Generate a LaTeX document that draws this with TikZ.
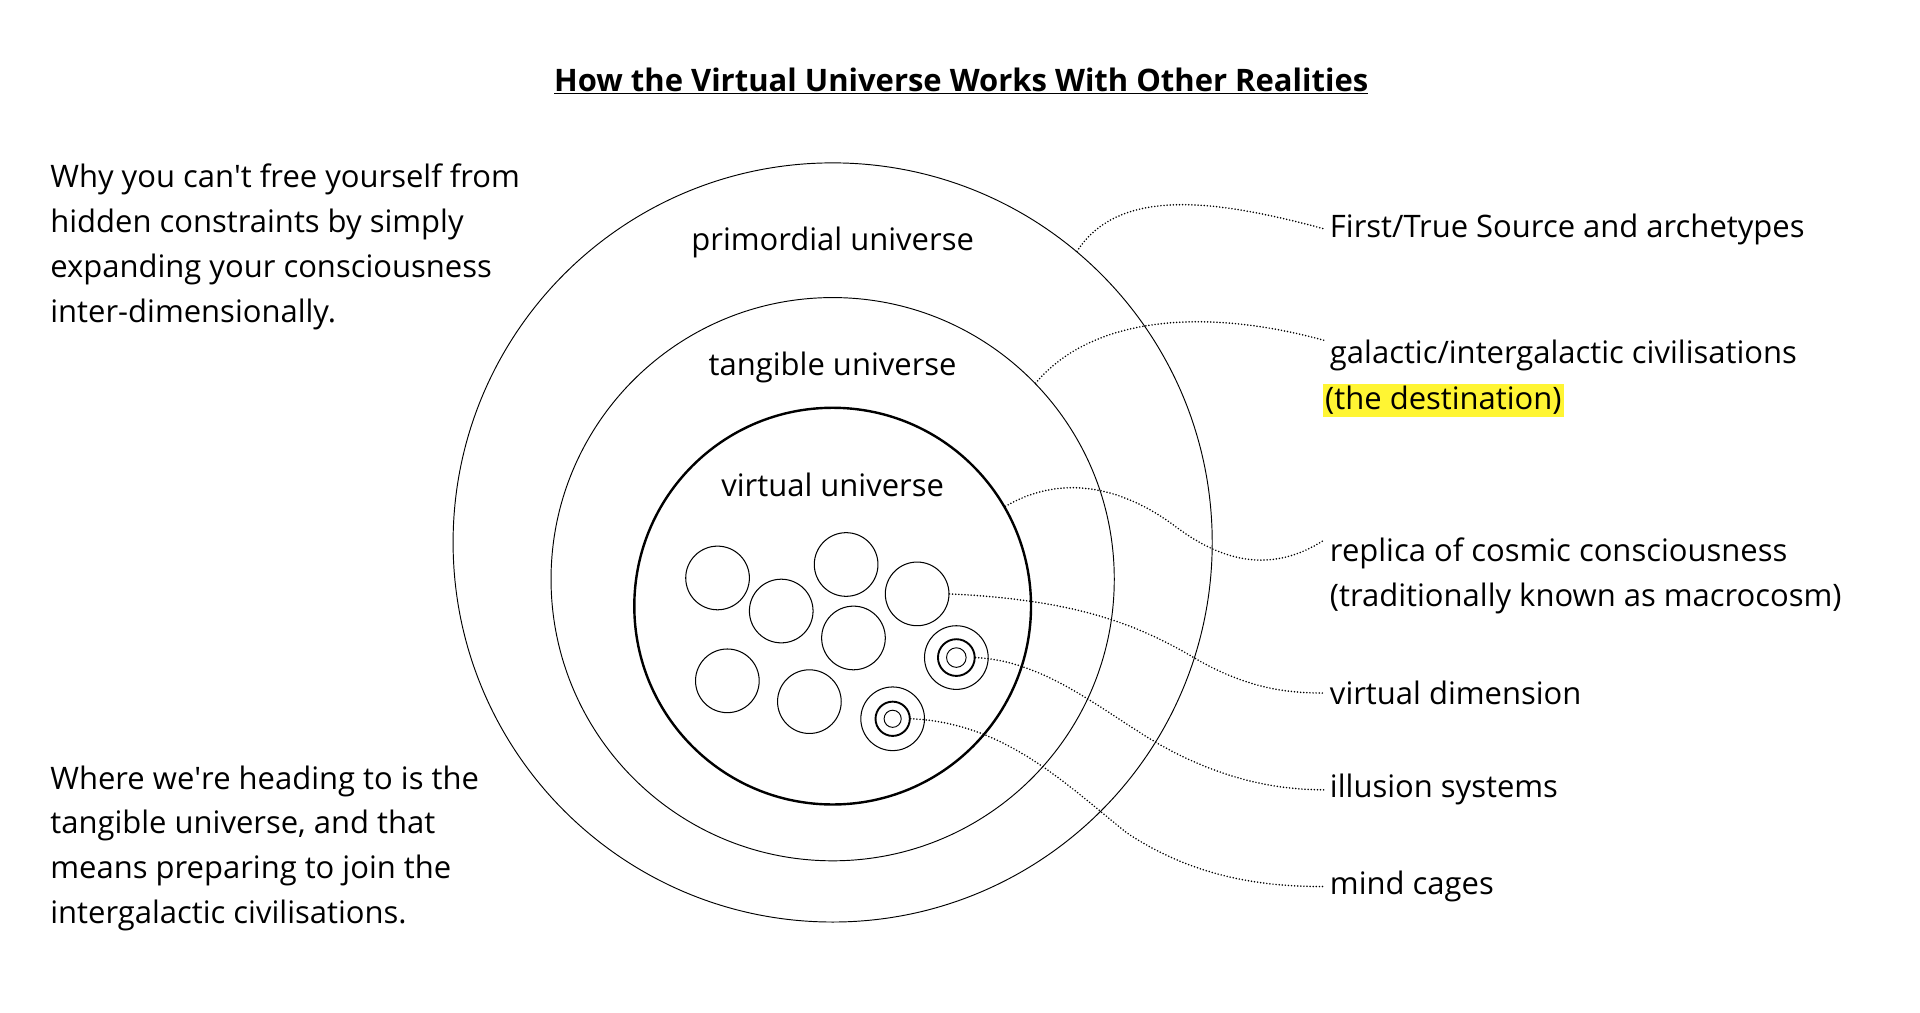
\documentclass[tikz,border=0pt]{standalone}
\usepackage{fontspec}
\setmainfont{Open Sans}
\begin{document}
\begin{tikzpicture}[x=0.05cm,y=-0.05cm,
  txt/.style={font=\fontsize{36}{52}\selectfont, inner sep=0pt},
  lbl/.style={txt, anchor=west},
  ring/.style={circle, draw, line width=1.1pt, inner sep=0pt},
  dot/.style={line width=2pt, line cap=round, dash pattern=on 0pt off 3.6pt},
  sm/.style={ring, minimum size=2.6cm, line width=1.2pt}]
\useasboundingbox (0,0) rectangle (1568,827);
\fill[white] (0,0) rectangle (1568,827);
\node[txt, font=\fontsize{36}{40}\selectfont\bfseries] (title) at (785,66) {\underline{How the Virtual Universe Works With Other Realities}};
\node[txt, anchor=north west, align=left] (lt) at (41,134) {Why you can\textquotesingle t free yourself from\\hidden constraints by simply\\expanding your consciousness\\inter-dimensionally.};
\node[txt, anchor=north west, align=left] (lb) at (41,625) {Where we\textquotesingle re heading to is the\\tangible universe, and that\\means preparing to join the\\intergalactic civilisations.};
\node[ring, minimum size=31cm] (outer) at (680,443) {};
\node[ring, minimum size=23cm] (mid) at (680,473) {};
\node[ring, minimum size=16.2cm, line width=2.8pt] (inner) at (680,495) {};
\node[txt] (tp) at (680,198) {primordial universe};
\node[txt] (tt) at (680,300) {tangible universe};
\node[txt] (tv) at (680,396) {virtual universe};
\node[sm] (c1) at (586,472) {};
\node[sm] (c2) at (638,499) {};
\node[sm] (c3) at (691,461) {};
\node[sm] (c4) at (749,485) {};
\node[sm] (c5) at (697,521) {};
\node[sm] (c6) at (594,556) {};
\node[sm] (c7) at (661,573) {};
\node[sm] (s1) at (781,537) {};
\node[ring, minimum size=1.5cm, line width=2.2pt] (s1b) at (781,537) {};
\node[ring, minimum size=0.8cm] (s1c) at (781,537) {};
\node[sm] (s2) at (729,587) {};
\node[ring, minimum size=1.4cm, line width=2.2pt] (s2b) at (729,587) {};
\node[ring, minimum size=0.7cm] (s2c) at (729,587) {};
\node[lbl] (l1) at (1086,187) {First/True Source and archetypes};
\node[lbl] (l2) at (1086,290) {galactic/intergalactic civilisations};
\node[lbl, fill=yellow!80!white, inner sep=3pt] (l2b) at (1080,327) {(the destination)};
\node[lbl] (l3) at (1086,452) {replica of cosmic consciousness};
\node[lbl] (l3b) at (1086,489) {(traditionally known as macrocosm)};
\node[lbl] (l4) at (1086,566) {virtual dimension};
\node[lbl] (l5) at (1086,645) {illusion systems};
\node[lbl] (l6) at (1086,724) {mind cages};
\draw[dot] (outer.50) .. controls (915,150) and (1000,165) .. ([xshift=-6]l1.west);
\draw[dot] (mid.44) .. controls (890,260) and (980,250) .. ([xshift=-6,yshift=17]l2.west);
\draw[dot] (inner.30) .. controls (870,385) and (920,400) .. (960,430) .. controls (1000,460) and (1040,468) .. ([xshift=-6,yshift=16]l3.west);
\draw[dot] (c4.east) .. controls (880,490) and (930,510) .. (980,540) .. controls (1020,562) and (1050,566) .. ([xshift=-6]l4.west);
\draw[dot] (s1b.east) .. controls (860,540) and (910,590) .. (960,615) .. controls (1010,640) and (1050,645) .. ([xshift=-6]l5.west);
\draw[dot] (s2b.east) .. controls (820,590) and (870,640) .. (920,680) .. controls (980,720) and (1040,724) .. ([xshift=-6]l6.west);
\end{tikzpicture}
\end{document}
